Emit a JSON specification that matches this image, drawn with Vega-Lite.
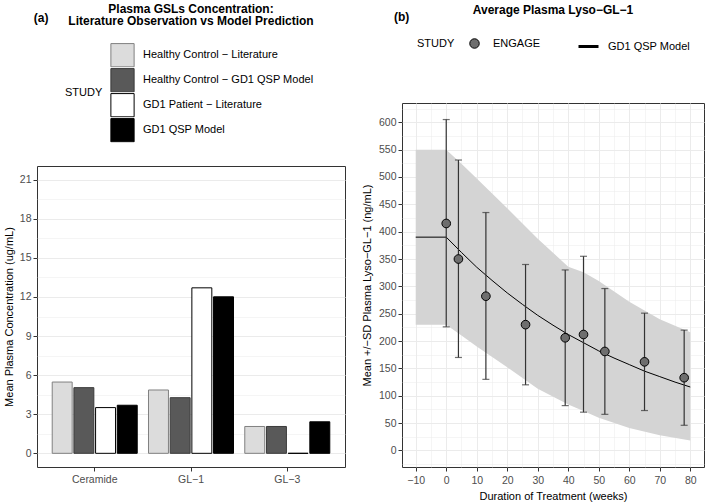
{
  "$schema": "https://vega.github.io/schema/vega-lite/v6.json",
  "padding": {"left": 2, "top": 2, "right": 0, "bottom": 2},
  "spacing": 14,
  "resolve": {"scale": {"fill": "independent", "stroke": "independent", "x": "independent", "y": "independent"}, "legend": {"fill": "independent", "stroke": "independent"}},
  "datasets": {
    "gsl": [
      {"GSL": "Ceramide", "STUDY": "Healthy Control − Literature", "value": 5.47},
      {"GSL": "Ceramide", "STUDY": "Healthy Control − GD1 QSP Model", "value": 5.04},
      {"GSL": "Ceramide", "STUDY": "GD1 Patient − Literature", "value": 3.51},
      {"GSL": "Ceramide", "STUDY": "GD1 QSP Model", "value": 3.69},
      {"GSL": "GL−1", "STUDY": "Healthy Control − Literature", "value": 4.86},
      {"GSL": "GL−1", "STUDY": "Healthy Control − GD1 QSP Model", "value": 4.27},
      {"GSL": "GL−1", "STUDY": "GD1 Patient − Literature", "value": 12.70},
      {"GSL": "GL−1", "STUDY": "GD1 QSP Model", "value": 12.01},
      {"GSL": "GL−3", "STUDY": "Healthy Control − Literature", "value": 2.06},
      {"GSL": "GL−3", "STUDY": "Healthy Control − GD1 QSP Model", "value": 2.06},
      {"GSL": "GL−3", "STUDY": "GD1 Patient − Literature", "value": 0},
      {"GSL": "GL−3", "STUDY": "GD1 QSP Model", "value": 2.42}
    ],
    "obs": [
      {"week": 0, "mean": 415, "lo": 226, "hi": 605, "STUDY": "ENGAGE"},
      {"week": 4, "mean": 350, "lo": 170, "hi": 531, "STUDY": "ENGAGE"},
      {"week": 13, "mean": 282, "lo": 130, "hi": 435, "STUDY": "ENGAGE"},
      {"week": 26, "mean": 230, "lo": 120, "hi": 340, "STUDY": "ENGAGE"},
      {"week": 39, "mean": 206, "lo": 82, "hi": 330, "STUDY": "ENGAGE"},
      {"week": 45, "mean": 212, "lo": 70, "hi": 355, "STUDY": "ENGAGE"},
      {"week": 52, "mean": 181, "lo": 66, "hi": 296, "STUDY": "ENGAGE"},
      {"week": 65, "mean": 162, "lo": 73, "hi": 251, "STUDY": "ENGAGE"},
      {"week": 78, "mean": 133, "lo": 46, "hi": 220, "STUDY": "ENGAGE"}
    ],
    "model": [
      {"week": -10, "value": 390, "STUDY": "GD1 QSP Model"}, {"week": 0, "value": 390, "STUDY": "GD1 QSP Model"},
      {"week": 5, "value": 362, "STUDY": "GD1 QSP Model"}, {"week": 10, "value": 335, "STUDY": "GD1 QSP Model"},
      {"week": 15, "value": 311, "STUDY": "GD1 QSP Model"}, {"week": 20, "value": 288, "STUDY": "GD1 QSP Model"},
      {"week": 25, "value": 267, "STUDY": "GD1 QSP Model"}, {"week": 30, "value": 247, "STUDY": "GD1 QSP Model"},
      {"week": 35, "value": 229, "STUDY": "GD1 QSP Model"}, {"week": 40, "value": 212, "STUDY": "GD1 QSP Model"},
      {"week": 45, "value": 197, "STUDY": "GD1 QSP Model"}, {"week": 50, "value": 182, "STUDY": "GD1 QSP Model"},
      {"week": 55, "value": 169, "STUDY": "GD1 QSP Model"}, {"week": 60, "value": 157, "STUDY": "GD1 QSP Model"},
      {"week": 65, "value": 145, "STUDY": "GD1 QSP Model"}, {"week": 70, "value": 135, "STUDY": "GD1 QSP Model"},
      {"week": 75, "value": 125, "STUDY": "GD1 QSP Model"}, {"week": 80, "value": 116, "STUDY": "GD1 QSP Model"}
    ],
    "band": [
      {"week": -10, "lo": 230, "hi": 550}, {"week": 0, "lo": 230, "hi": 550},
      {"week": 5, "lo": 210, "hi": 524}, {"week": 10, "lo": 190, "hi": 497},
      {"week": 20, "lo": 152, "hi": 443}, {"week": 30, "lo": 113, "hi": 387},
      {"week": 40, "lo": 84, "hi": 336}, {"week": 45, "lo": 72, "hi": 326},
      {"week": 50, "lo": 60, "hi": 310}, {"week": 60, "lo": 41, "hi": 272},
      {"week": 70, "lo": 28, "hi": 240}, {"week": 80, "lo": 18, "hi": 216}
    ]
  },
  "hconcat": [
    {
      "title": {"text": "(a)", "anchor": "start", "frame": "bounds", "dx": 31, "dy": 22, "offset": 0, "fontSize": 12},
      "spacing": 0,
      "resolve": {"scale": {"fill": "independent", "stroke": "independent"}, "legend": {"fill": "independent", "stroke": "independent"}},
      "vconcat": [
        {
          "width": 308,
          "height": 62,
          "view": {"stroke": null},
          "title": {"text": ["Plasma GSLs Concentration:", "Literature Observation vs Model Prediction"], "anchor": "middle", "frame": "group", "lineHeight": 12.5, "offset": 15},
          "data": {"name": "gsl"},
          "mark": {"type": "text"},
          "encoding": {
            "text": {"value": ""},
            "fill": {
              "field": "STUDY", "type": "nominal",
              "scale": {"domain": ["Healthy Control − Literature", "Healthy Control − GD1 QSP Model", "GD1 Patient − Literature", "GD1 QSP Model"], "range": ["#dcdcdc", "#595959", "#ffffff", "#000000"]},
              "legend": {"orient": "none", "legendX": 28, "legendY": -60, "direction": "vertical", "title": "STUDY", "titleOrient": "left", "titleAnchor": "middle", "titleBaseline": "middle", "titlePadding": 7, "symbolType": "square", "symbolSize": 540, "symbolStrokeWidth": 1, "symbolOpacity": 1, "rowPadding": 0, "clipHeight": 24.4, "labelOffset": 8, "labelLimit": 400}
            },
            "stroke": {
              "field": "STUDY", "type": "nominal",
              "scale": {"domain": ["Healthy Control − Literature", "Healthy Control − GD1 QSP Model", "GD1 Patient − Literature", "GD1 QSP Model"], "range": ["#808080", "#3a3a3a", "#000000", "#000000"]},
              "legend": {"orient": "none", "legendX": 28, "legendY": -60, "direction": "vertical", "title": "STUDY", "titleOrient": "left", "titleAnchor": "middle", "titleBaseline": "middle", "titlePadding": 7, "symbolType": "square", "symbolSize": 540, "symbolStrokeWidth": 1, "symbolOpacity": 1, "rowPadding": 0, "clipHeight": 24.4, "labelOffset": 8, "labelLimit": 400}
            }
          }
        },
        {
          "width": 308,
          "height": 301,
          "data": {"name": "gsl"},
          "mark": {"type": "bar", "strokeWidth": 1},
          "encoding": {
            "x": {
              "field": "GSL", "type": "nominal", "sort": ["Ceramide", "GL−1", "GL−3"],
              "scale": {"paddingInner": 0.117, "paddingOuter": 0.158},
              "axis": {"title": null, "labelAngle": 0, "bandPosition": 0.5, "labelPadding": 3}
            },
            "xOffset": {
              "field": "STUDY", "type": "nominal",
              "sort": ["Healthy Control − Literature", "Healthy Control − GD1 QSP Model", "GD1 Patient − Literature", "GD1 QSP Model"],
              "scale": {"paddingInner": 0.08, "paddingOuter": 0}
            },
            "y": {
              "field": "value", "type": "quantitative", "stack": null,
              "scale": {"domain": [-1.05, 22.05], "nice": false, "zero": false},
              "axis": {
                "title": "Mean Plasma Concentration (ug/mL)",
                "titlePadding": 5,
                "values": [0, 1.5, 3, 4.5, 6, 7.5, 9, 10.5, 12, 13.5, 15, 16.5, 18, 19.5, 21],
                "labelExpr": "datum.value % 3 === 0 ? datum.label : ''",
                "tickOpacity": {"condition": {"test": "datum.value % 3 !== 0", "value": 0}, "value": 1},
                "gridWidth": {"condition": {"test": "datum.value % 3 !== 0", "value": 0.5}, "value": 1}
              }
            },
            "fill": {
              "field": "STUDY", "type": "nominal",
              "scale": {"domain": ["Healthy Control − Literature", "Healthy Control − GD1 QSP Model", "GD1 Patient − Literature", "GD1 QSP Model"], "range": ["#dcdcdc", "#595959", "#ffffff", "#000000"]},
              "legend": null
            },
            "stroke": {
              "field": "STUDY", "type": "nominal",
              "scale": {"domain": ["Healthy Control − Literature", "Healthy Control − GD1 QSP Model", "GD1 Patient − Literature", "GD1 QSP Model"], "range": ["#808080", "#3a3a3a", "#000000", "#000000"]},
              "legend": null
            }
          }
        }
      ]
    },
    {
      "title": {"text": "(b)", "anchor": "start", "frame": "bounds", "dx": 33, "dy": 20, "offset": 0, "fontSize": 12},
      "resolve": {"scale": {"fill": "independent", "stroke": "independent"}, "legend": {"fill": "independent", "stroke": "independent"}},
      "vconcat": [
        {
          "width": 302,
          "height": 364,
          "title": {"text": "Average Plasma Lyso−GL−1", "anchor": "middle", "frame": "group", "offset": 18},
          "resolve": {"scale": {"fill": "independent", "stroke": "independent"}, "legend": {"fill": "independent", "stroke": "independent"}},
          "encoding": {
            "x": {
              "type": "quantitative",
              "scale": {"domain": [-14.5, 84.5], "nice": false, "zero": false},
              "axis": {
                "title": "Duration of Treatment (weeks)",
                "titlePadding": 5,
                "labelPadding": 4,
                "values": [-10, -5, 0, 5, 10, 15, 20, 25, 30, 35, 40, 45, 50, 55, 60, 65, 70, 75, 80],
                "labelExpr": "datum.value % 10 === 0 ? datum.label : ''",
                "tickOpacity": {"condition": {"test": "datum.value % 10 !== 0", "value": 0}, "value": 1},
                "gridWidth": {"condition": {"test": "datum.value % 10 !== 0", "value": 0.5}, "value": 1}
              }
            },
            "y": {
              "type": "quantitative",
              "scale": {"domain": [-30.25, 635.25], "nice": false, "zero": false},
              "axis": {
                "title": "Mean +/−SD Plasma Lyso−GL−1 (ng/mL)",
                "titlePadding": 6,
                "values": [-25, 0, 25, 50, 75, 100, 125, 150, 175, 200, 225, 250, 275, 300, 325, 350, 375, 400, 425, 450, 475, 500, 525, 550, 575, 600, 625],
                "labelExpr": "datum.value % 50 === 0 ? datum.label : ''",
                "tickOpacity": {"condition": {"test": "datum.value % 50 !== 0", "value": 0}, "value": 1},
                "gridWidth": {"condition": {"test": "datum.value % 50 !== 0", "value": 0.5}, "value": 1}
              }
            }
          },
          "layer": [
            {
              "data": {"name": "band"},
              "mark": {"type": "area", "fill": "#d4d4d4", "opacity": 1},
              "encoding": {
                "x": {"field": "week", "type": "quantitative"},
                "y": {"field": "lo", "type": "quantitative"},
                "y2": {"field": "hi"}
              }
            },
            {
              "data": {"name": "model"},
              "mark": {"type": "line", "strokeWidth": 1},
              "encoding": {
                "x": {"field": "week", "type": "quantitative"},
                "y": {"field": "value", "type": "quantitative"},
                "stroke": {
                  "field": "STUDY", "type": "nominal",
                  "scale": {"domain": ["GD1 QSP Model"], "range": ["#000000"]},
                  "legend": {"orient": "none", "legendX": 175, "legendY": -68, "title": null, "symbolType": "stroke", "symbolSize": 400, "symbolStrokeWidth": 3, "labelOffset": 8}
                }
              }
            },
            {
              "data": {"name": "obs"},
              "mark": {"type": "rule", "color": "#333333", "strokeWidth": 1.2},
              "encoding": {
                "x": {"field": "week", "type": "quantitative"},
                "y": {"field": "lo", "type": "quantitative"},
                "y2": {"field": "hi"}
              }
            },
            {
              "data": {"name": "obs"},
              "mark": {"type": "tick", "orient": "horizontal", "size": 7, "thickness": 1.2, "color": "#333333"},
              "encoding": {
                "x": {"field": "week", "type": "quantitative"},
                "y": {"field": "hi", "type": "quantitative"}
              }
            },
            {
              "data": {"name": "obs"},
              "mark": {"type": "tick", "orient": "horizontal", "size": 7, "thickness": 1.2, "color": "#333333"},
              "encoding": {
                "x": {"field": "week", "type": "quantitative"},
                "y": {"field": "lo", "type": "quantitative"}
              }
            },
            {
              "data": {"name": "obs"},
              "mark": {"type": "point", "filled": true, "shape": "circle", "stroke": "#000000", "strokeWidth": 1, "size": 75, "opacity": 1},
              "encoding": {
                "x": {"field": "week", "type": "quantitative"},
                "y": {"field": "mean", "type": "quantitative"},
                "fill": {
                  "field": "STUDY", "type": "nominal",
                  "scale": {"domain": ["ENGAGE"], "range": ["#6e6e6e"]},
                  "legend": {"orient": "none", "legendX": 15, "legendY": -65, "direction": "horizontal", "title": "STUDY", "titleOrient": "left", "titleBaseline": "middle", "titlePadding": 14, "labelOffset": 13, "symbolType": "circle", "symbolSize": 90, "symbolStrokeColor": "#000000", "symbolStrokeWidth": 1}
                }
              }
            }
          ]
        }
      ]
    }
  ],
  "config": {
    "font": "Liberation Sans",
    "view": {"stroke": "#333333", "strokeWidth": 1},
    "axis": {"domain": false, "gridColor": "#ebebeb", "tickColor": "#333333", "tickSize": 4, "labelColor": "#4d4d4d", "labelFontSize": 10.5, "titleFontSize": 11, "titleFontWeight": "normal", "titleColor": "#000000", "labelPadding": 2},
    "legend": {"labelFontSize": 11, "titleFontSize": 11, "titleFontWeight": "normal", "labelColor": "#000000", "titleColor": "#000000", "padding": 0},
    "title": {"fontSize": 12, "fontWeight": "bold", "color": "#000000"}
  }
}
